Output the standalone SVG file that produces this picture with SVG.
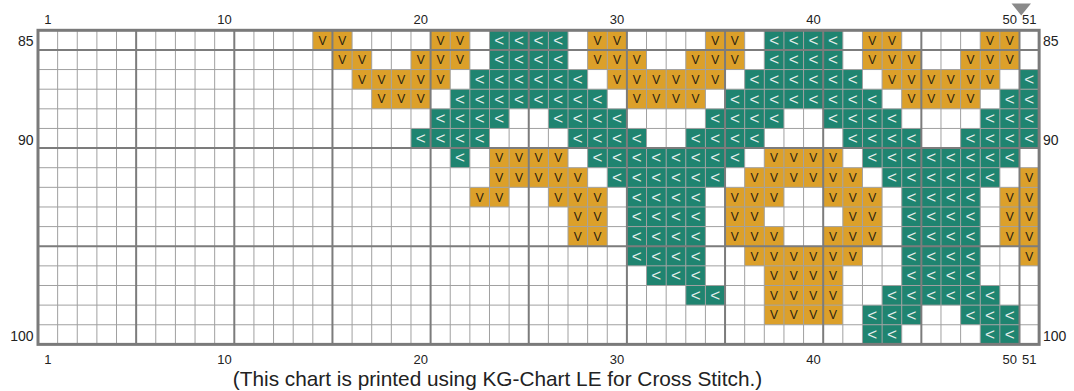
<svg xmlns="http://www.w3.org/2000/svg" xmlns:xlink="http://www.w3.org/1999/xlink" width="1074" height="391" viewBox="0 0 1074 391">
<style>
.lbl{font-family:"Liberation Sans",Arial,sans-serif;font-size:13px;fill:#222}
.row{font-size:14px}
.cap{font-size:20.8px}
.mid{text-anchor:middle}
.end{text-anchor:end}
.sv{font-family:"Liberation Sans",Arial,sans-serif;font-size:12px;fill:#2a2010;text-anchor:middle}
.st{font-family:"Liberation Sans",Arial,sans-serif;font-size:17px;fill:#e4eeeb;text-anchor:middle}
.minor{fill:none;stroke:#a0a0a0;stroke-width:1}
.major{fill:none;stroke:#7c7c7c;stroke-width:2}
.border{fill:none;stroke:#7a7a7a;stroke-width:3}
</style>
<defs>
<g id="v"><rect width="19.63" height="19.63" fill="#DCA02A"/><text x="9.815" y="14.3" class="sv">V</text></g>
<g id="t"><rect width="19.63" height="19.63" fill="#1F8470"/><text x="9.815" y="15.4" class="st">&lt;</text></g>
</defs>
<rect x="0" y="0" width="1074" height="391" fill="#fff"/>
<rect x="38" y="30.3" width="1001.13" height="314.08" fill="#fff"/>
<g id="cells">
<g id="r85" transform="translate(0,30.3)">
<use href="#v" x="312.82"/><use href="#v" x="332.45"/><use href="#v" x="430.6"/><use href="#v" x="450.23"/><use href="#v" x="587.64"/><use href="#v" x="607.27"/><use href="#v" x="705.42"/><use href="#v" x="725.05"/><use href="#v" x="862.46"/><use href="#v" x="882.09"/><use href="#v" x="980.24"/><use href="#v" x="999.87"/>
<use href="#t" x="489.49"/><use href="#t" x="509.12"/><use href="#t" x="528.75"/><use href="#t" x="548.38"/><use href="#t" x="764.31"/><use href="#t" x="783.94"/><use href="#t" x="803.57"/><use href="#t" x="823.2"/>
</g>
<g id="r86" transform="translate(0,49.93)">
<use href="#v" x="332.45"/><use href="#v" x="352.08"/><use href="#v" x="410.97"/><use href="#v" x="430.6"/><use href="#v" x="450.23"/><use href="#v" x="587.64"/><use href="#v" x="607.27"/><use href="#v" x="626.9"/><use href="#v" x="685.79"/><use href="#v" x="705.42"/><use href="#v" x="725.05"/><use href="#v" x="862.46"/><use href="#v" x="882.09"/><use href="#v" x="901.72"/><use href="#v" x="960.61"/><use href="#v" x="980.24"/><use href="#v" x="999.87"/>
<use href="#t" x="489.49"/><use href="#t" x="509.12"/><use href="#t" x="528.75"/><use href="#t" x="548.38"/><use href="#t" x="764.31"/><use href="#t" x="783.94"/><use href="#t" x="803.57"/><use href="#t" x="823.2"/>
</g>
<g id="r87" transform="translate(0,69.56)">
<use href="#v" x="352.08"/><use href="#v" x="371.71"/><use href="#v" x="391.34"/><use href="#v" x="410.97"/><use href="#v" x="430.6"/><use href="#v" x="607.27"/><use href="#v" x="626.9"/><use href="#v" x="646.53"/><use href="#v" x="666.16"/><use href="#v" x="685.79"/><use href="#v" x="705.42"/><use href="#v" x="882.09"/><use href="#v" x="901.72"/><use href="#v" x="921.35"/><use href="#v" x="940.98"/><use href="#v" x="960.61"/><use href="#v" x="980.24"/>
<use href="#t" x="469.86"/><use href="#t" x="489.49"/><use href="#t" x="509.12"/><use href="#t" x="528.75"/><use href="#t" x="548.38"/><use href="#t" x="568.01"/><use href="#t" x="744.68"/><use href="#t" x="764.31"/><use href="#t" x="783.94"/><use href="#t" x="803.57"/><use href="#t" x="823.2"/><use href="#t" x="842.83"/><use href="#t" x="1019.5"/>
</g>
<g id="r88" transform="translate(0,89.19)">
<use href="#v" x="371.71"/><use href="#v" x="391.34"/><use href="#v" x="410.97"/><use href="#v" x="626.9"/><use href="#v" x="646.53"/><use href="#v" x="666.16"/><use href="#v" x="685.79"/><use href="#v" x="901.72"/><use href="#v" x="921.35"/><use href="#v" x="940.98"/><use href="#v" x="960.61"/>
<use href="#t" x="450.23"/><use href="#t" x="469.86"/><use href="#t" x="489.49"/><use href="#t" x="509.12"/><use href="#t" x="528.75"/><use href="#t" x="548.38"/><use href="#t" x="568.01"/><use href="#t" x="587.64"/><use href="#t" x="725.05"/><use href="#t" x="744.68"/><use href="#t" x="764.31"/><use href="#t" x="783.94"/><use href="#t" x="803.57"/><use href="#t" x="823.2"/><use href="#t" x="842.83"/><use href="#t" x="862.46"/><use href="#t" x="999.87"/><use href="#t" x="1019.5"/>
</g>
<g id="r89" transform="translate(0,108.82)">
<use href="#t" x="430.6"/><use href="#t" x="450.23"/><use href="#t" x="469.86"/><use href="#t" x="489.49"/><use href="#t" x="548.38"/><use href="#t" x="568.01"/><use href="#t" x="587.64"/><use href="#t" x="607.27"/><use href="#t" x="705.42"/><use href="#t" x="725.05"/><use href="#t" x="744.68"/><use href="#t" x="764.31"/><use href="#t" x="823.2"/><use href="#t" x="842.83"/><use href="#t" x="862.46"/><use href="#t" x="882.09"/><use href="#t" x="980.24"/><use href="#t" x="999.87"/><use href="#t" x="1019.5"/>
</g>
<g id="r90" transform="translate(0,128.45)">
<use href="#t" x="410.97"/><use href="#t" x="430.6"/><use href="#t" x="450.23"/><use href="#t" x="469.86"/><use href="#t" x="568.01"/><use href="#t" x="587.64"/><use href="#t" x="607.27"/><use href="#t" x="626.9"/><use href="#t" x="685.79"/><use href="#t" x="705.42"/><use href="#t" x="725.05"/><use href="#t" x="744.68"/><use href="#t" x="842.83"/><use href="#t" x="862.46"/><use href="#t" x="882.09"/><use href="#t" x="901.72"/><use href="#t" x="960.61"/><use href="#t" x="980.24"/><use href="#t" x="999.87"/><use href="#t" x="1019.5"/>
</g>
<g id="r91" transform="translate(0,148.08)">
<use href="#t" x="450.23"/><use href="#t" x="587.64"/><use href="#t" x="607.27"/><use href="#t" x="626.9"/><use href="#t" x="646.53"/><use href="#t" x="666.16"/><use href="#t" x="685.79"/><use href="#t" x="705.42"/><use href="#t" x="725.05"/><use href="#t" x="862.46"/><use href="#t" x="882.09"/><use href="#t" x="901.72"/><use href="#t" x="921.35"/><use href="#t" x="940.98"/><use href="#t" x="960.61"/><use href="#t" x="980.24"/><use href="#t" x="999.87"/>
<use href="#v" x="489.49"/><use href="#v" x="509.12"/><use href="#v" x="528.75"/><use href="#v" x="548.38"/><use href="#v" x="764.31"/><use href="#v" x="783.94"/><use href="#v" x="803.57"/><use href="#v" x="823.2"/>
</g>
<g id="r92" transform="translate(0,167.71)">
<use href="#v" x="489.49"/><use href="#v" x="509.12"/><use href="#v" x="528.75"/><use href="#v" x="548.38"/><use href="#v" x="568.01"/><use href="#v" x="744.68"/><use href="#v" x="764.31"/><use href="#v" x="783.94"/><use href="#v" x="803.57"/><use href="#v" x="823.2"/><use href="#v" x="842.83"/><use href="#v" x="1019.5"/>
<use href="#t" x="607.27"/><use href="#t" x="626.9"/><use href="#t" x="646.53"/><use href="#t" x="666.16"/><use href="#t" x="685.79"/><use href="#t" x="705.42"/><use href="#t" x="882.09"/><use href="#t" x="901.72"/><use href="#t" x="921.35"/><use href="#t" x="940.98"/><use href="#t" x="960.61"/><use href="#t" x="980.24"/>
</g>
<g id="r93" transform="translate(0,187.34)">
<use href="#v" x="469.86"/><use href="#v" x="489.49"/><use href="#v" x="548.38"/><use href="#v" x="568.01"/><use href="#v" x="587.64"/><use href="#v" x="725.05"/><use href="#v" x="744.68"/><use href="#v" x="764.31"/><use href="#v" x="823.2"/><use href="#v" x="842.83"/><use href="#v" x="862.46"/><use href="#v" x="999.87"/><use href="#v" x="1019.5"/>
<use href="#t" x="626.9"/><use href="#t" x="646.53"/><use href="#t" x="666.16"/><use href="#t" x="685.79"/><use href="#t" x="901.72"/><use href="#t" x="921.35"/><use href="#t" x="940.98"/><use href="#t" x="960.61"/>
</g>
<g id="r94" transform="translate(0,206.97)">
<use href="#v" x="568.01"/><use href="#v" x="587.64"/><use href="#v" x="725.05"/><use href="#v" x="744.68"/><use href="#v" x="842.83"/><use href="#v" x="862.46"/><use href="#v" x="999.87"/><use href="#v" x="1019.5"/>
<use href="#t" x="626.9"/><use href="#t" x="646.53"/><use href="#t" x="666.16"/><use href="#t" x="685.79"/><use href="#t" x="901.72"/><use href="#t" x="921.35"/><use href="#t" x="940.98"/><use href="#t" x="960.61"/>
</g>
<g id="r95" transform="translate(0,226.6)">
<use href="#v" x="568.01"/><use href="#v" x="587.64"/><use href="#v" x="725.05"/><use href="#v" x="744.68"/><use href="#v" x="764.31"/><use href="#v" x="823.2"/><use href="#v" x="842.83"/><use href="#v" x="862.46"/><use href="#v" x="999.87"/><use href="#v" x="1019.5"/>
<use href="#t" x="626.9"/><use href="#t" x="646.53"/><use href="#t" x="666.16"/><use href="#t" x="685.79"/><use href="#t" x="901.72"/><use href="#t" x="921.35"/><use href="#t" x="940.98"/><use href="#t" x="960.61"/>
</g>
<g id="r96" transform="translate(0,246.23)">
<use href="#v" x="744.68"/><use href="#v" x="764.31"/><use href="#v" x="783.94"/><use href="#v" x="803.57"/><use href="#v" x="823.2"/><use href="#v" x="842.83"/><use href="#v" x="1019.5"/>
<use href="#t" x="626.9"/><use href="#t" x="646.53"/><use href="#t" x="666.16"/><use href="#t" x="685.79"/><use href="#t" x="901.72"/><use href="#t" x="921.35"/><use href="#t" x="940.98"/><use href="#t" x="960.61"/>
</g>
<g id="r97" transform="translate(0,265.86)">
<use href="#v" x="764.31"/><use href="#v" x="783.94"/><use href="#v" x="803.57"/><use href="#v" x="823.2"/>
<use href="#t" x="646.53"/><use href="#t" x="666.16"/><use href="#t" x="685.79"/><use href="#t" x="901.72"/><use href="#t" x="921.35"/><use href="#t" x="940.98"/><use href="#t" x="960.61"/>
</g>
<g id="r98" transform="translate(0,285.49)">
<use href="#v" x="764.31"/><use href="#v" x="783.94"/><use href="#v" x="803.57"/><use href="#v" x="823.2"/>
<use href="#t" x="685.79"/><use href="#t" x="705.42"/><use href="#t" x="882.09"/><use href="#t" x="901.72"/><use href="#t" x="921.35"/><use href="#t" x="940.98"/><use href="#t" x="960.61"/><use href="#t" x="980.24"/>
</g>
<g id="r99" transform="translate(0,305.12)">
<use href="#v" x="764.31"/><use href="#v" x="783.94"/><use href="#v" x="803.57"/><use href="#v" x="823.2"/>
<use href="#t" x="862.46"/><use href="#t" x="882.09"/><use href="#t" x="901.72"/><use href="#t" x="960.61"/><use href="#t" x="980.24"/><use href="#t" x="999.87"/>
</g>
<g id="r100" transform="translate(0,324.75)">
<use href="#t" x="862.46"/><use href="#t" x="882.09"/><use href="#t" x="980.24"/><use href="#t" x="999.87"/>
</g>
</g>
<g id="grid">
<path class="minor" d="M57.63 30.3V344.38M77.26 30.3V344.38M96.89 30.3V344.38M116.52 30.3V344.38M155.78 30.3V344.38M175.41 30.3V344.38M195.04 30.3V344.38M214.67 30.3V344.38M253.93 30.3V344.38M273.56 30.3V344.38M293.19 30.3V344.38M312.82 30.3V344.38M352.08 30.3V344.38M371.71 30.3V344.38M391.34 30.3V344.38M410.97 30.3V344.38M450.23 30.3V344.38M469.86 30.3V344.38M489.49 30.3V344.38M509.12 30.3V344.38M548.38 30.3V344.38M568.01 30.3V344.38M587.64 30.3V344.38M607.27 30.3V344.38M646.53 30.3V344.38M666.16 30.3V344.38M685.79 30.3V344.38M705.42 30.3V344.38M744.68 30.3V344.38M764.31 30.3V344.38M783.94 30.3V344.38M803.57 30.3V344.38M842.83 30.3V344.38M862.46 30.3V344.38M882.09 30.3V344.38M901.72 30.3V344.38M940.98 30.3V344.38M960.61 30.3V344.38M980.24 30.3V344.38M999.87 30.3V344.38M38 69.56H1039.13M38 89.19H1039.13M38 108.82H1039.13M38 128.45H1039.13M38 167.71H1039.13M38 187.34H1039.13M38 206.97H1039.13M38 226.6H1039.13M38 265.86H1039.13M38 285.49H1039.13M38 305.12H1039.13M38 324.75H1039.13"/>
<path class="major" d="M136.15 30.3V344.38M234.3 30.3V344.38M332.45 30.3V344.38M430.6 30.3V344.38M528.75 30.3V344.38M626.9 30.3V344.38M725.05 30.3V344.38M823.2 30.3V344.38M921.35 30.3V344.38M1019.5 30.3V344.38M38 49.93H1039.13M38 148.08H1039.13M38 246.23H1039.13"/>
<rect class="border" x="38" y="30.3" width="1001.13" height="314.08"/>
</g>
<g id="labels">
<text class="lbl mid" x="47.8" y="23.5">1</text>
<text class="lbl mid" x="224.5" y="23.5">10</text>
<text class="lbl mid" x="420.8" y="23.5">20</text>
<text class="lbl mid" x="617.1" y="23.5">30</text>
<text class="lbl mid" x="813.4" y="23.5">40</text>
<text class="lbl mid" x="1009.7" y="23.5">50</text>
<text class="lbl mid" x="1029.3" y="23.5">51</text>
<text class="lbl mid" x="47.8" y="363.5">1</text>
<text class="lbl mid" x="224.5" y="363.5">10</text>
<text class="lbl mid" x="420.8" y="363.5">20</text>
<text class="lbl mid" x="617.1" y="363.5">30</text>
<text class="lbl mid" x="813.4" y="363.5">40</text>
<text class="lbl mid" x="1009.7" y="363.5">50</text>
<text class="lbl mid" x="1029.3" y="363.5">51</text>
<text class="lbl row end" x="33.5" y="46.3">85</text>
<text class="lbl row end" x="33.5" y="144.5">90</text>
<text class="lbl row end" x="33.5" y="340.7">100</text>
<text class="lbl row" x="1043" y="46.3">85</text>
<text class="lbl row" x="1043" y="144.5">90</text>
<text class="lbl row" x="1043" y="340.7">100</text>
<text class="lbl cap mid" x="497.5" y="386">(This chart is printed using KG-Chart LE for Cross Stitch.)</text>
</g>
<polygon id="marker" points="1011.5,3.5 1031,3.5 1021.2,15.5" fill="#8a8a8a"/>
</svg>
